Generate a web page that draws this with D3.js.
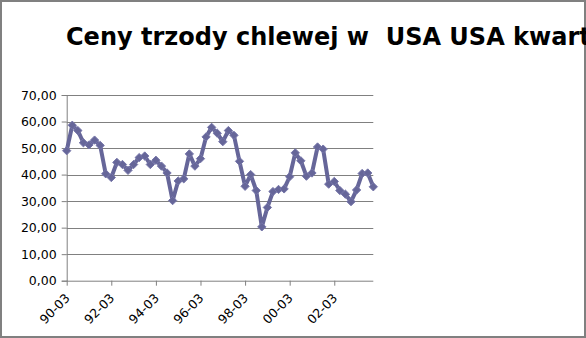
<!DOCTYPE html>
<html>
<head>
<meta charset="utf-8">
<script src="https://cdnjs.cloudflare.com/ajax/libs/d3/7.8.5/d3.min.js"></script>
<style>
  body { margin: 0; background: #fff; }
  svg { display: block; font-family: "DejaVu Sans", sans-serif; }
</style>
</head>
<body>
<div id="chart"></div>
<script>
var width = 586,
    height = 338;

var title = "Ceny trzody chlewej w  USA USA kwartalnie";

// quarters 90-03 .. 03-12
var years = d3.range(1990, 2004);
var months = ["03", "06", "09", "12"];
var quarters = [];
years.forEach(function(y) {
    months.forEach(function(m) { quarters.push(String(y).slice(2) + "-" + m); });
});

var prices = [
    49.0, 58.6, 56.6, 52.0, 51.2, 53.0, 51.0, 40.3, 38.9, 44.6,
    43.8, 41.6, 43.8, 46.4, 47.0, 43.8, 45.4, 43.2, 40.6, 30.2,
    37.6, 38.4, 47.8, 43.2, 46.0, 54.2, 57.8, 55.6, 52.4, 56.6,
    54.8, 45.0, 35.6, 40.0, 34.0, 20.3, 27.6, 33.6, 34.4, 34.6,
    39.2, 48.2, 45.2, 39.4, 40.6, 50.4, 49.6, 36.4, 37.4, 34.0,
    32.6, 29.8, 34.2, 40.4, 40.6, 35.4
];

var yTicks = [0, 10, 20, 30, 40, 50, 60, 70];

var data = quarters.map(function(q, i) { return { q: q, v: prices[i] }; });

var margin = { left: 66.7, right: 212.7, top: 95, bottom: 57.3 };

var x = d3.scalePoint()
    .domain(quarters)
    .range([margin.left, width - margin.right]);

var y = d3.scaleLinear()
    .domain([0, 70])
    .range([height - margin.bottom, margin.top]);

var fmt = function(d) { return d3.format(".2f")(d).replace(".", ","); };

var svg = d3.select("#chart").append("svg")
    .attr("width", width)
    .attr("height", height);

// outer frame
svg.append("rect")
    .attr("x", 1).attr("y", 1)
    .attr("width", width - 2).attr("height", height - 2)
    .attr("fill", "#fff")
    .attr("stroke", "#808080")
    .attr("stroke-width", 2);

svg.append("text")
    .attr("x", 66)
    .attr("y", 45)
    .attr("font-size", 24)
    .attr("font-weight", "bold")
    .attr("fill", "#000")
    .style("white-space", "pre")
    .text(title);

// gridlines
svg.append("g")
    .selectAll("line")
    .data(yTicks.slice(1))
    .enter().append("line")
    .attr("x1", margin.left)
    .attr("x2", width - margin.right)
    .attr("y1", function(d) { return Math.round(y(d)) + 0.5; })
    .attr("y2", function(d) { return Math.round(y(d)) + 0.5; })
    .attr("stroke", "#808080")
    .attr("stroke-width", 1);

// y axis
var yAxis = d3.axisLeft(y)
    .tickValues(yTicks)
    .tickSize(5)
    .tickPadding(5)
    .tickFormat(fmt);

var gy = svg.append("g")
    .attr("transform", "translate(" + margin.left + ",0)")
    .call(yAxis);
gy.selectAll("path, line").attr("stroke", "#808080");
gy.selectAll("text").attr("font-size", 12.5).attr("fill", "#000")
    .attr("font-family", "DejaVu Sans");

// x axis
var xAxis = d3.axisBottom(x)
    .tickValues(quarters.filter(function(d, i) { return i % 8 === 0; }))
    .tickSize(5)
    .tickSizeOuter(0);

var gx = svg.append("g")
    .attr("transform", "translate(0," + (height - margin.bottom) + ")")
    .call(xAxis);
gx.select(".domain").attr("d", "M" + margin.left + ",0.5H" + (width - margin.right));
gx.selectAll("path, line").attr("stroke", "#808080");
gx.selectAll("text")
    .attr("font-size", 12.5)
    .attr("font-family", "DejaVu Sans")
    .attr("fill", "#000")
    .attr("text-anchor", "end")
    .attr("x", -10.5)
    .attr("y", 15.3)
    .attr("dy", 0)
    .attr("transform", "rotate(-45)");

// series
var line = d3.line()
    .x(function(d) { return x(d.q); })
    .y(function(d) { return y(d.v); });

svg.append("path")
    .datum(data)
    .attr("fill", "none")
    .attr("stroke", "#666699")
    .attr("stroke-width", 4)
    .attr("stroke-linejoin", "round")
    .attr("d", line);

var diamond = d3.symbol().type(d3.symbolDiamond2).size(44);

svg.append("g")
    .selectAll("path")
    .data(data)
    .enter().append("path")
    .attr("transform", function(d) { return "translate(" + x(d.q) + "," + y(d.v) + ")"; })
    .attr("d", diamond)
    .attr("fill", "#666699")
    .attr("stroke", "#7777aa")
    .attr("stroke-width", 1);
</script>
</body>
</html>
